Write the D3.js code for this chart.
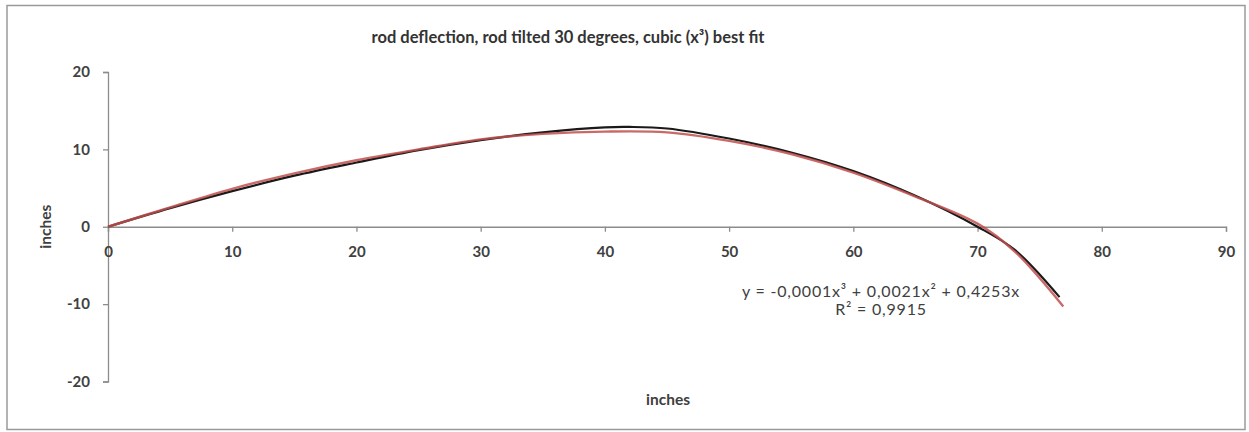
<!DOCTYPE html>
<html>
<head>
<meta charset="utf-8">
<script src="https://cdn.jsdelivr.net/npm/d3@7"></script>
<style>
  html, body { margin: 0; padding: 0; background: #fff; }
  svg { display: block; font-family: Lato, "Open Sans", sans-serif; }
</style>
</head>
<body>
<svg id="chart" width="1249" height="432"></svg>
<script>
// Measured rod deflection (inches along rod vs. deflection in inches)
const measuredX = [0, 5, 10, 15, 20, 25, 30, 35, 40, 42, 45, 50, 55, 60, 65, 70, 73, 76.6];
const measuredY = [0, 2.4, 4.6, 6.6, 8.3, 9.9, 11.2, 12.2, 12.85, 12.9, 12.7, 11.4, 9.6, 7.2, 4.0, 0, -3.0, -9.1];

// Cubic trendline through the measurements
const trendX = [0, 5, 10, 15, 20, 25, 30, 35, 40, 45, 50, 55, 60, 65, 70, 73, 76.9];
const trendY = [0, 2.5, 4.9, 6.9, 8.6, 10.0, 11.3, 12.0, 12.3, 12.2, 11.1, 9.4, 7.0, 3.9, 0.4, -3.2, -10.3];

const xTicks = [0, 10, 20, 30, 40, 50, 60, 70, 80, 90];
const yTicks = [-20, -10, 0, 10, 20];

const titleText = "rod deflection, rod tilted 30 degrees, cubic (x³) best fit";
const xTitle = "inches";
const yTitle = "inches";
const equationText = "y = -0,0001x³ + 0,0021x² + 0,4253x";
const rSquaredText = "R² = 0,9915";

const svg = d3.select("#chart");
const axisColor = "#8c8c8c";
const textColor = "#404040";

// chart frame
svg.append("rect")
  .attr("x", 7).attr("y", 5.5)
  .attr("width", 1238).attr("height", 424)
  .attr("fill", "#fff")
  .attr("stroke", "#9a9a9a").attr("stroke-width", 1.5);

const x = d3.scaleLinear().domain([0, 90]).range([108, 1226]);
const y = d3.scaleLinear().domain([-20, 20]).range([381.5, 72]);

// title
svg.append("text")
  .attr("x", 568).attr("y", 43)
  .attr("text-anchor", "middle")
  .attr("font-size", 16.5).attr("font-weight", "bold")
  .attr("fill", "#333")
  .text(titleText);

const plainNumber = d => String(d);

// y axis
const yAxis = svg.append("g")
  .attr("transform", `translate(${x(0)},0)`)
  .call(d3.axisLeft(y).tickValues(yTicks).tickSize(5).tickPadding(13).tickFormat(plainNumber));
yAxis.select(".domain").attr("stroke", axisColor).attr("stroke-width", 1.3);
yAxis.selectAll(".tick line").attr("stroke", axisColor).attr("stroke-width", 1.3);
yAxis.selectAll(".tick text")
  .attr("font-size", 15).attr("font-weight", "bold").attr("fill", textColor)
  .attr("font-family", "Lato, sans-serif");

// x axis at y = 0
const xAxis = svg.append("g")
  .attr("transform", `translate(0,${y(0)})`)
  .call(d3.axisBottom(x).tickValues(xTicks).tickSize(5).tickPadding(15).tickFormat(plainNumber));
xAxis.select(".domain").attr("stroke", axisColor).attr("stroke-width", 1.3);
xAxis.selectAll(".tick line").attr("stroke", axisColor).attr("stroke-width", 1.3);
xAxis.selectAll(".tick text")
  .attr("font-size", 15).attr("font-weight", "bold").attr("fill", textColor)
  .attr("font-family", "Lato, sans-serif");

// axis titles
svg.append("text")
  .attr("transform", `translate(51,${y(0)}) rotate(-90)`)
  .attr("text-anchor", "middle")
  .attr("font-size", 15.5).attr("font-weight", "bold").attr("fill", textColor)
  .text(yTitle);

svg.append("text")
  .attr("x", 668).attr("y", 405)
  .attr("text-anchor", "middle")
  .attr("font-size", 15.5).attr("font-weight", "bold").attr("fill", textColor)
  .text(xTitle);

// curves
const line = d3.line()
  .x(d => x(d[0]))
  .y(d => y(d[1]))
  .curve(d3.curveCatmullRom.alpha(0.5));

const measured = measuredX.map((v, i) => [v, measuredY[i]]);
const trend = trendX.map((v, i) => [v, trendY[i]]);

svg.append("path")
  .datum(measured)
  .attr("fill", "none")
  .attr("stroke", "#1a1a1a")
  .attr("stroke-width", 2.2)
  .attr("d", line);

svg.append("path")
  .datum(trend)
  .attr("fill", "none")
  .attr("stroke", "#c0504d")
  .attr("stroke-opacity", 0.85)
  .attr("stroke-width", 2.4)
  .attr("d", line);

// trendline equation
svg.append("text")
  .attr("x", 881).attr("y", 297)
  .attr("text-anchor", "middle")
  .attr("font-size", 16).attr("letter-spacing", 0.8).attr("fill", textColor)
  .text(equationText);

svg.append("text")
  .attr("x", 881).attr("y", 315)
  .attr("text-anchor", "middle")
  .attr("font-size", 16).attr("letter-spacing", 0.8).attr("fill", textColor)
  .text(rSquaredText);
</script>
</body>
</html>
